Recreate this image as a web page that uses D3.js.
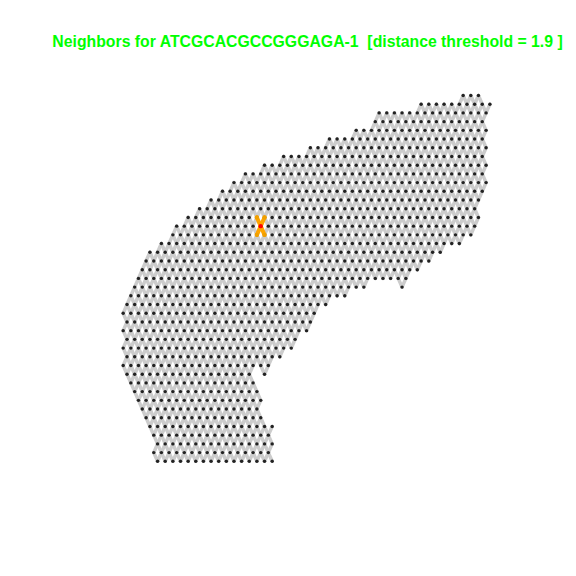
<!DOCTYPE html>
<html><head><meta charset="utf-8">
<script src="https://cdn.jsdelivr.net/npm/d3@7"></script>
<style>html,body{margin:0;padding:0;background:#fff;} svg{display:block;}</style>
</head><body>
<script>
// Spot grid (array_row index -> list of [firstCol, lastCol] runs, columns step by 2)
const rowSegments = [
  [[53,57]], [[42,60]], [[31,59]], [[30,58]], [[25,59]], [[18,58]], [[13,59]], [[6,58]],
  [[1,59]], [[-4,58]], [[-7,59]], [[-10,58]], [[-13,57]], [[-16,56]], [[-19,57]], [[-22,56]],
  [[-23,55]], [[-26,52]], [[-29,47]], [[-30,44]], [[-31,41]], [[-32,38]], [[-33,27],[37,37]], [[-34,22]],
  [[-35,17]], [[-36,14]], [[-35,13]], [[-36,12]], [[-35,9]], [[-36,8]], [[-35,5]], [[-36,2]],
  [[-35,-3],[1,1]], [[-34,-2]], [[-33,-1]], [[-32,0]], [[-31,-1]], [[-30,0]], [[-29,3]], [[-28,2]],
  [[-27,3]], [[-28,2]], [[-27,3]]
];
const centerBarcode = "ATCGCACGCCGGGAGA-1";
const centerSpot = {row: 15, col: 0};
const distanceThreshold = 1.9;
const colDomain = [-36, 60];
const rowDomain = [0, 42];

const W = 576, H = 576;
const svg = d3.select("body").append("svg").attr("width", W).attr("height", H);
svg.append("rect").attr("width", W).attr("height", H).attr("fill", "#fff");

const x = d3.scaleLinear().domain(colDomain).range([123.2, 489.9]);
const y = d3.scaleLinear().domain(rowDomain).range([95.5, 461.3]);

const spots = [];
const key = (r, c) => r + "_" + c;
const spotSet = new Set();
rowSegments.forEach((segs, r) => segs.forEach(([a, b]) => {
  for (let c = a; c <= b; c += 2) { spots.push({row: r, col: c}); spotSet.add(key(r, c)); }
}));

const edges = [];
spots.forEach(s => {
  for (let dr = 0; dr <= 2; dr++) for (let dc = -3; dc <= 3; dc++) {
    if (dr === 0 && dc <= 0) continue;
    const d = Math.sqrt(dr*dr + dc*dc);
    if (d <= distanceThreshold && spotSet.has(key(s.row + dr, s.col + dc))) {
      edges.push({a: s, b: {row: s.row + dr, col: s.col + dc}});
    }
  }
});

svg.append("g").selectAll("line").data(edges).join("line")
  .attr("x1", d => x(d.a.col)).attr("y1", d => y(d.a.row))
  .attr("x2", d => x(d.b.col)).attr("y2", d => y(d.b.row))
  .attr("stroke", "#cccccc").attr("stroke-width", 3.5).attr("stroke-linecap", "round");

svg.append("g").selectAll("circle").data(spots).join("circle")
  .attr("cx", d => x(d.col)).attr("cy", d => y(d.row)).attr("r", 1.7)
  .attr("fill", "#222");

// Neighbors of the center spot
const nbrs = spots.filter(s => {
  const d = Math.hypot(s.row - centerSpot.row, s.col - centerSpot.col);
  return d > 0 && d <= distanceThreshold;
});
svg.append("g").selectAll("line").data(nbrs).join("line")
  .attr("x1", x(centerSpot.col)).attr("y1", y(centerSpot.row))
  .attr("x2", d => x(d.col)).attr("y2", d => y(d.row))
  .attr("stroke", "#FFA500").attr("stroke-width", 4).attr("stroke-linecap", "round");
svg.append("g").selectAll("circle").data(nbrs).join("circle")
  .attr("cx", d => x(d.col)).attr("cy", d => y(d.row)).attr("r", 2.2).attr("fill", "#F0A000");
svg.append("circle").attr("cx", x(centerSpot.col)).attr("cy", y(centerSpot.row))
  .attr("r", 2.2).attr("fill", "#FF0000");

svg.append("text")
  .attr("x", 307.5).attr("y", 47).attr("text-anchor", "middle")
  .style("white-space", "pre")
  .attr("font-family", "Liberation Sans, Arial, sans-serif").attr("font-weight", "bold")
  .attr("font-size", 15.8).attr("fill", "#00FF00")
  .text(`Neighbors for ${centerBarcode}  [distance threshold = ${distanceThreshold} ]`);
</script>
</body></html>
